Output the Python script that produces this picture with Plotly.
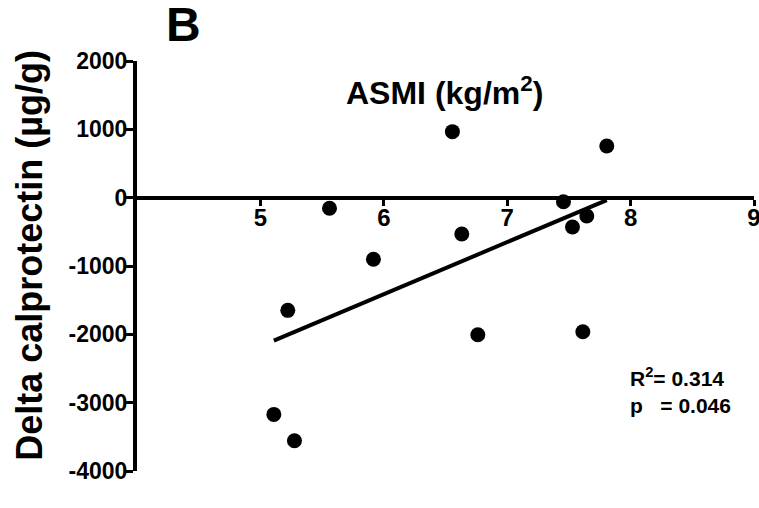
import numpy as np
import plotly.graph_objects as go

# ASMI (kg/m^2) vs change in faecal calprotectin (µg/g)
asmi = [5.56, 6.556, 7.807, 7.456, 7.645, 7.529, 6.632, 5.916, 5.222, 6.762, 5.109, 5.276, 7.613]
delta_calprotectin = [-155, 966, 757, -59, -268, -429, -531, -902, -1649, -2006, -3172, -3558, -1962]

x_range = [4, 9]
y_range = [-4000, 2000]
x_ticks = [5, 6, 7, 8, 9]
y_ticks = [-4000, -3000, -2000, -1000, 0, 1000, 2000]

# least-squares fit over the observed ASMI span
x_arr = np.array(asmi)
y_arr = np.array(delta_calprotectin)
slope, intercept = np.polyfit(x_arr, y_arr, 1)
fit_x = np.array([x_arr.min(), x_arr.max()])
fit_y = slope * fit_x + intercept
r2 = np.corrcoef(x_arr, y_arr)[0, 1] ** 2
p_value = 0.046

FONT = "Arial, Liberation Sans, Helvetica, sans-serif"

fig = go.Figure()
fig.add_trace(go.Scatter(
    x=fit_x, y=fit_y, mode="lines",
    line=dict(color="black", width=4),
    hoverinfo="skip", showlegend=False,
))
fig.add_trace(go.Scatter(
    x=asmi, y=delta_calprotectin, mode="markers",
    marker=dict(color="black", size=15, line=dict(width=0)),
    showlegend=False,
))

# x axis crosses the y axis at zero
zero_pos = (0 - y_range[0]) / (y_range[1] - y_range[0])

fig.update_layout(
    width=759, height=508,
    margin=dict(l=137, r=5, t=61, b=37, autoexpand=False),
    paper_bgcolor="white", plot_bgcolor="white",
    font=dict(family=FONT, color="black"),
    xaxis=dict(
        range=x_range, tickvals=x_ticks, ticktext=[str(t) for t in x_ticks],
        anchor="free", position=zero_pos,
        showline=True, linecolor="black", linewidth=4,
        ticks="outside", ticklen=6, tickwidth=3, tickcolor="black",
        ticklabelstandoff=-8, ticklabeloverflow="allow",
        tickfont=dict(size=24, family=FONT, color="black", weight="bold"),
        showgrid=False, zeroline=False,
    ),
    yaxis=dict(
        range=y_range, tickvals=y_ticks, ticktext=[str(t) for t in y_ticks],
        showline=True, linecolor="black", linewidth=4,
        ticks="outside", ticklen=7, tickwidth=3, tickcolor="black",
        ticklabelstandoff=-6, ticklabeloverflow="allow",
        tickfont=dict(size=23, family=FONT, color="black", weight="bold"),
        showgrid=False, zeroline=False,
    ),
    annotations=[
        dict(text="B", xref="paper", yref="paper", x=0.076, y=1.088,
             xanchor="center", yanchor="middle", showarrow=False,
             font=dict(size=48, family=FONT, color="black", weight="bold")),
        dict(text="ASMI (kg/m<sup>2</sup>)", xref="paper", yref="paper", x=0.499, y=0.926,
             xanchor="center", yanchor="middle", showarrow=False,
             font=dict(size=32, family=FONT, color="black", weight="bold")),
        dict(text="Delta calprotectin (µg/g)", xref="paper", yref="paper", x=0, y=0.525,
             xshift=-107, textangle=-90, xanchor="center", yanchor="middle", showarrow=False,
             font=dict(size=36, family=FONT, color="black", weight="bold")),
        dict(text=f"R<sup>2</sup>= {r2:.3f}<br>p\u00a0\u00a0\u00a0= {p_value:.3f}",
             xref="paper", yref="paper", x=0.796, y=0.197, align="left",
             xanchor="left", yanchor="middle", showarrow=False,
             font=dict(size=21, family=FONT, color="black", weight="bold")),
    ],
)

fig.write_html("out.html")
